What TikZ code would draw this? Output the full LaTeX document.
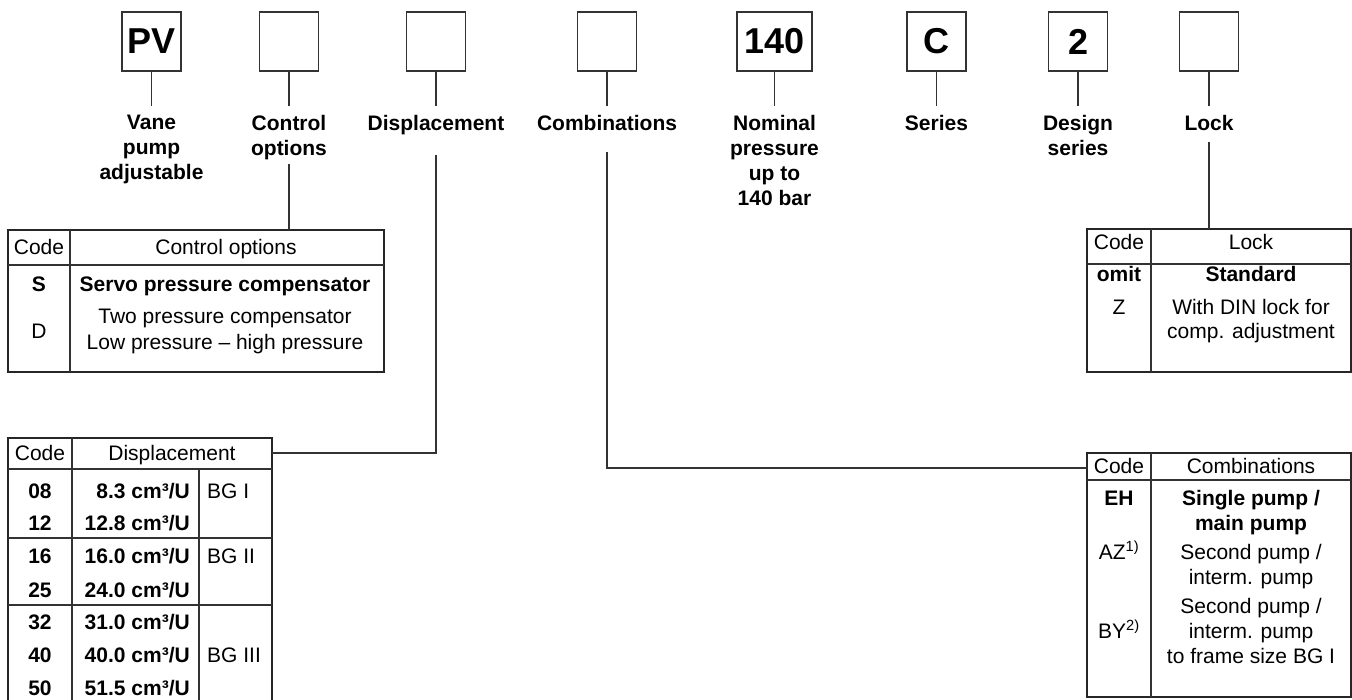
\documentclass[tikz,border=0pt]{standalone}
\usepackage{fontspec}
\setmainfont{Liberation Sans}
\begin{document}
\begin{tikzpicture}[x=1pt,y=-1pt,
  line/.style={line width=1.3pt, draw=black!80},
  frame/.style={draw=black!85, line width=1.3pt, inner sep=0pt, outer sep=0pt, anchor=north west},
  codebox/.style={draw=black!80, line width=1.3pt, minimum width=59pt, minimum height=59pt, inner sep=0pt, outer sep=0pt, font=\fontsize{36}{40}\selectfont\bfseries},
  lbl/.style={font=\fontsize{21}{25}\selectfont\bfseries, align=center, anchor=north, inner xsep=0pt, inner ysep=9pt, outer sep=0pt},
  cell/.style={font=\fontsize{21}{25}\selectfont, anchor=base, inner sep=0pt},
  bcell/.style={cell, font=\fontsize{21}{25}\selectfont\bfseries},
  ]
\useasboundingbox (0,0) rectangle (1352,700);

% ---------- code boxes ----------
\node[codebox] (bPV)   at (151.5,41.5) {PV};
\node[codebox] (bCtrl) at (289,41.5) {};
\node[codebox] (bDisp) at (436,41.5) {};
\node[codebox] (bComb) at (607,41.5) {};
\node[codebox, minimum width=75pt] (bNom) at (774.5,41.5) {140};
\node[codebox] (bSer)  at (936.5,41.5) {C};
\node[codebox] (bDes)  at (1078,41.5) {2};
\node[codebox] (bLock) at (1209,41.5) {};

% ---------- labels ----------
\node[lbl] (lPV)   at (151.5,106) {Vane\\pump\\adjustable};
\node[lbl] (lCtrl) at (289,106) {Control\\options};
\node[lbl] (lDisp) at (436,106) {Displacement};
\node[lbl] (lComb) at (607,106) {Combinations};
\node[lbl] (lNom)  at (774.5,106) {Nominal\\pressure\\up to\\140 bar};
\node[lbl] (lSer)  at (936.5,106) {Series};
\node[lbl] (lDes)  at (1078,106) {Design\\series};
\node[lbl] (lLock) at (1209,106) {Lock};

\foreach \b/\l in {bPV/lPV, bCtrl/lCtrl, bDisp/lDisp, bComb/lComb, bNom/lNom, bSer/lSer, bDes/lDes, bLock/lLock}
  \draw[line] (\b.south) -- (\l.north);

% ---------- table frames ----------
\node[frame, minimum width=376pt, minimum height=142pt] (tCtrl) at (8,230) {};
\node[frame, minimum width=264pt, minimum height=270pt] (tDisp) at (8,438) {};
\node[frame, minimum width=264pt, minimum height=244pt] (tComb) at (1087,453) {};
\node[frame, minimum width=264pt, minimum height=143pt] (tLock) at (1087,229) {};

% ---------- connectors from labels to tables ----------
\coordinate (uCtrl) at (289,164);
\coordinate (uDisp) at (436,155);
\coordinate (uComb) at (607,152);
\coordinate (uLock) at (1209,142);
\coordinate (jDisp) at (272,453);
\coordinate (jComb) at (1087,468);
\draw[line] (uCtrl) -- (uCtrl |- tCtrl.north);
\draw[line] (uDisp) |- (jDisp);
\draw[line] (uComb) |- (jComb);
\draw[line] (uLock) -- (uLock |- tLock.north);

% ---------- control options table ----------
\draw[line] (8,265) -- (384,265);
\draw[line] (70,230) -- (70,372);
\node[cell] at (39,255) {Code};
\node[cell] at (226,255) {Control options};
\node[bcell] at (39,292) {S};
\node[bcell] at (225,292) {Servo pressure compensator};
\node[cell] at (39,339) {D};
\node[cell] at (225,324) {Two pressure compensator};
\node[cell] at (225,350) {Low pressure -- high pressure};

% ---------- displacement table ----------
\draw[line] (8,469) -- (272,469);
\draw[line] (8,538) -- (272,538);
\draw[line] (8,605) -- (272,605);
\draw[line] (72,438) -- (72,705);
\draw[line] (199,469) -- (199,705);
\node[cell] at (40,460) {Code};
\node[cell] at (172,460) {Displacement};
\foreach \c/\v/\y in {08/8.3/498, 12/12.8/530, 16/16.0/563, 25/24.0/597, 32/31.0/629, 40/40.0/662, 50/51.5/695} {
  \node[bcell] at (40,\y) {\c};
  \node[bcell, anchor=base east] at (190,\y) {\v\ cm³/U};
}
\node[cell, anchor=base west] at (207,498) {BG I};
\node[cell, anchor=base west] at (207,563) {BG II};
\node[cell, anchor=base west] at (207,662) {BG III};

% ---------- combinations table ----------
\draw[line] (1087,480) -- (1351,480);
\draw[line] (1151,453) -- (1151,697);
\node[cell] at (1119,473) {Code};
\node[cell] at (1251,473) {Combinations};
\node[bcell] at (1119,505) {EH};
\node[bcell] at (1251,505) {Single pump /};
\node[bcell] at (1251,530) {main pump};
\node[cell] at (1119,559) {AZ\textsuperscript{1)}};
\node[cell] at (1251,559) {Second pump /};
\node[cell] at (1251,584) {interm. pump};
\node[cell] at (1251,613) {Second pump /};
\node[cell] at (1119,638) {BY\textsuperscript{2)}};
\node[cell] at (1251,638) {interm. pump};
\node[cell] at (1251,663) {to frame size BG I};

% ---------- lock table ----------
\draw[line] (1087,264) -- (1351,264);
\draw[line] (1151,229) -- (1151,372);
\node[cell] at (1119,250) {Code};
\node[cell] at (1251,250) {Lock};
\node[bcell] at (1119,282) {omit};
\node[bcell] at (1251,282) {Standard};
\node[cell] at (1119,315) {Z};
\node[cell] at (1251,315) {With DIN lock for};
\node[cell] at (1251,339) {comp. adjustment};
\end{tikzpicture}
\end{document}
